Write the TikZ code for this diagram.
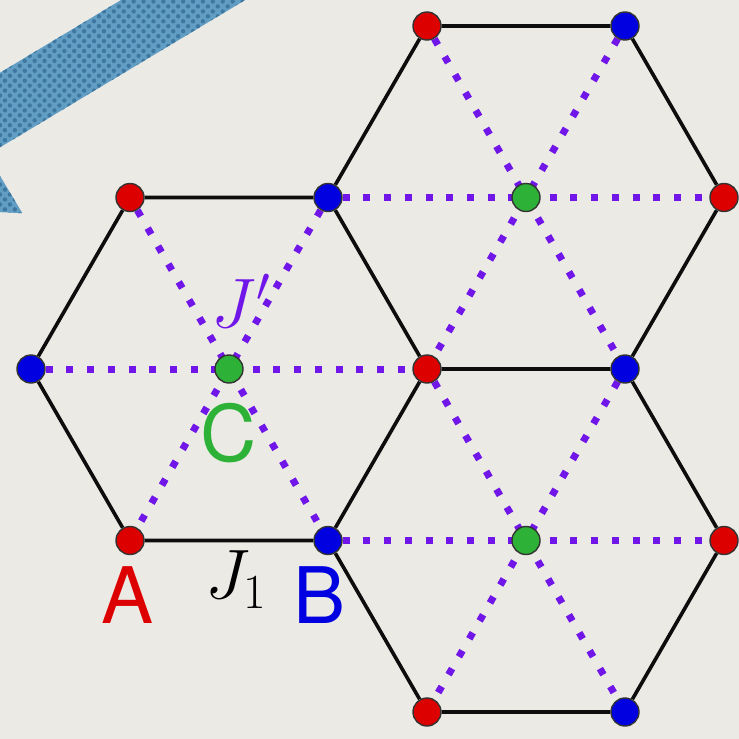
\RequirePackage{fix-cm}
\documentclass[tikz,border=0pt]{standalone}
\usepackage{fontspec}
\newfontfamily\sitefont{TeX Gyre Heros}
\usetikzlibrary{backgrounds,patterns.meta}

\definecolor{paper}{RGB}{236,234,229}
\definecolor{siteA}{RGB}{220,0,0}
\definecolor{siteB}{RGB}{0,0,225}
\definecolor{siteC}{RGB}{45,178,55}
\definecolor{bondJp}{RGB}{112,22,232}
\definecolor{arrowblue}{RGB}{98,158,196}
\definecolor{arrowdot}{RGB}{62,120,160}

\tikzdeclarepattern{
  name=halftone,
  type=uncolored,
  bounding box={(-3.5pt,-3.5pt) and (3.5pt,3.5pt)},
  tile size={(7pt,7pt)},
  tile transformation={rotate=45},
  code={\fill (0pt,0pt) circle (2.2pt);}
}

\tikzset{
  site/.style={circle, minimum size=28pt, inner sep=0pt, draw=black!80, line width=1.4pt},
  bond/.style={line width=3.6pt, draw=black!95},
  jbond/.style={line width=7pt, draw=bondJp, dash pattern=on 7pt off 13.7pt},
  sublabel/.style={inner sep=0pt, font=\sitefont\fontsize{78}{78}\selectfont},
  coupling/.style={inner sep=0pt, font=\fontsize{70}{70}\selectfont}
}

\begin{document}
\begin{tikzpicture}[x=1pt,y=-1pt]
    \def\a{198}
    \def\h{171.5}
    \def\cx{229}
    \def\cy{369}
    \useasboundingbox (0,0) rectangle (739,739);
    % Sites of the left hexagon
    \node[site, fill=siteA] (a1) at (\cx-\a/2,\cy-\h) {};
    \node[site, fill=siteB] (b1) at (\cx+\a/2,\cy-\h) {};
    \node[site, fill=siteB] (b2) at (\cx-\a,\cy) {};
    \node[site, fill=siteA] (a2) at (\cx+\a,\cy) {};
    \node[site, fill=siteA] (a3) at (\cx-\a/2,\cy+\h) {};
    \node[site, fill=siteB] (b3) at (\cx+\a/2,\cy+\h) {};
    \node[site, fill=siteC] (c1) at (\cx,\cy) {};
    % Sites of the upper right hexagon
    \node[site, fill=siteA] (a4) at (\cx+\a,\cy-2*\h) {};
    \node[site, fill=siteB] (b4) at (\cx+2*\a,\cy-2*\h) {};
    \node[site, fill=siteA] (a5) at (\cx+2.5*\a,\cy-\h) {};
    \node[site, fill=siteB] (b5) at (\cx+2*\a,\cy) {};
    \node[site, fill=siteC] (c2) at (\cx+1.5*\a,\cy-\h) {};
    % Sites of the lower right hexagon
    \node[site, fill=siteA] (a6) at (\cx+2.5*\a,\cy+\h) {};
    \node[site, fill=siteA] (a7) at (\cx+\a,\cy+2*\h) {};
    \node[site, fill=siteB] (b6) at (\cx+2*\a,\cy+2*\h) {};
    \node[site, fill=siteC] (c3) at (\cx+1.5*\a,\cy+\h) {};
    % Labels
    \node[sublabel, text=siteA] (labA) at (128,595) {A};
    \node[sublabel, text=siteB] (labB) at (320,595) {B};
    \node[sublabel, text=siteC] (labC) at (229,433) {C};
    \node[coupling, anchor=base] (labJ1) at (236,598) {$J_1$};
    \node[coupling, text=bondJp, anchor=base] (labJp) at (241,327) {$J'$};

    \begin{scope}[on background layer]
    % Paper
    \fill[paper] (0,0) rectangle (739,739);
    % Arrow
    \begin{scope}
    \clip (0,0) rectangle (739,739);
    \fill[arrowblue, postaction={pattern=halftone, pattern color=arrowdot}]
      (326.5,-123.4) -- (-45.6,100.1) -- (-80.6,41.8) -- (-157.7,204.8)
      -- (22.4,213.2) -- (-12.6,154.9) -- (359.5,-68.6) -- cycle;
    \end{scope}
    % J' bonds
    \draw[jbond] (b2) -- (a2);
    \draw[jbond] (a1) -- (b3);
    \draw[jbond] (b1) -- (a3);
    \draw[jbond] (b1) -- (a5);
    \draw[jbond] (a4) -- (b5);
    \draw[jbond] (b4) -- (a2);
    \draw[jbond] (b3) -- (a6);
    \draw[jbond] (a2) -- (b6);
    \draw[jbond] (b5) -- (a7);
    % J1 bonds
    \draw[bond] (b2) -- (a1) -- (b1) -- (a2) -- (b3) -- (a3) -- (b2);
    \draw[bond] (b1) -- (a4) -- (b4) -- (a5) -- (b5) -- (a2);
    \draw[bond] (b5) -- (a6) -- (b6) -- (a7) -- (b3);
    \end{scope}
\end{tikzpicture}
\end{document}
